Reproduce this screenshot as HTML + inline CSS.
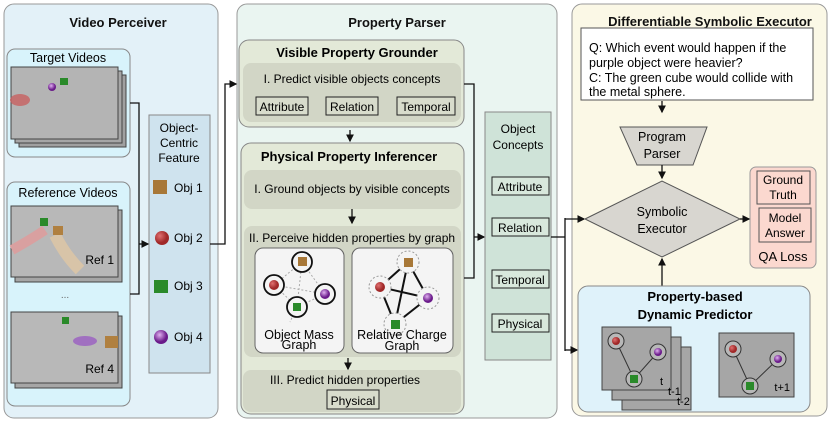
<!DOCTYPE html>
<html><head><meta charset="utf-8"><style>
html,body{margin:0;padding:0;background:#fff;}
svg{display:block;font-family:"Liberation Sans",sans-serif;}
</style></head><body>
<svg width="831" height="421" viewBox="0 0 831 421" xmlns="http://www.w3.org/2000/svg">
<defs>
<marker id="a" markerWidth="6" markerHeight="6" refX="5" refY="3" orient="auto"><path d="M0,0 L6,3 L0,6 z" fill="#111"/></marker>
<radialGradient id="gr" cx="35%" cy="35%"><stop offset="0" stop-color="#e07070"/><stop offset="1" stop-color="#a02828"/></radialGradient>
<radialGradient id="gp" cx="40%" cy="35%"><stop offset="0" stop-color="#e0b0f0"/><stop offset="1" stop-color="#6a1a8a"/></radialGradient>
</defs>
<!-- Panels -->
<rect x="4" y="4" width="214" height="414" rx="10" fill="#e3f1f8" stroke="#999"/>
<rect x="237" y="4" width="320" height="414" rx="10" fill="#eaf5f1" stroke="#999"/>
<rect x="572" y="4" width="255" height="412" rx="10" fill="#fbf8e6" stroke="#999"/>
<g font-weight="bold" font-size="13" text-anchor="middle" fill="#111">
<text x="118" y="27">Video Perceiver</text>
<text x="397" y="27">Property Parser</text>
<text x="710" y="26">Differentiable Symbolic Executor</text>
</g>
<!-- Video perceiver -->
<rect x="7" y="49" width="123" height="108" rx="8" fill="#d8f3fb" stroke="#888"/>
<text x="68" y="62" font-size="12.5" text-anchor="middle">Target Videos</text>
<rect x="19" y="75" width="107" height="72" fill="#a0a0a0" stroke="#444"/>
<rect x="15" y="71" width="107" height="72" fill="#a6a6a6" stroke="#444"/>
<rect x="11" y="67" width="107" height="72" fill="#b4b4b4" stroke="#444"/>
<ellipse cx="20" cy="100" rx="10" ry="6" fill="#c86060" opacity=".8"/>
<circle cx="52" cy="87" r="4" fill="url(#gp)"/>
<rect x="60" y="78" width="8" height="7" fill="#2a8a2a"/>
<rect x="7" y="182" width="123" height="224" rx="8" fill="#d8f3fb" stroke="#888"/>
<text x="68" y="197" font-size="12.5" text-anchor="middle">Reference Videos</text>
<rect x="15" y="210" width="107" height="72" fill="#a6a6a6" stroke="#444"/>
<rect x="11" y="206" width="107" height="71" fill="#b8b8b8" stroke="#444"/>
<path d="M12 250 Q30 240 45 230" stroke="#d9a0a0" stroke-width="10" fill="none"/>
<path d="M55 235 Q65 255 80 270" stroke="#d8c4a8" stroke-width="12" fill="none"/>
<rect x="40" y="218" width="8" height="8" fill="#2a8a2a"/>
<rect x="53" y="226" width="10" height="9" fill="#b08040"/>
<text x="114" y="264" font-size="12" text-anchor="end">Ref 1</text>
<text x="65" y="298" font-size="10" text-anchor="middle" fill="#666">...</text>
<rect x="15" y="316" width="107" height="72" fill="#a6a6a6" stroke="#444"/>
<rect x="11" y="312" width="107" height="71" fill="#b8b8b8" stroke="#444"/>
<rect x="62" y="317" width="7" height="7" fill="#2a8a2a"/>
<ellipse cx="85" cy="341" rx="12" ry="5" fill="#a070c0"/>
<rect x="105" y="336" width="13" height="12" fill="#b08040"/>
<text x="114" y="373" font-size="12" text-anchor="end">Ref 4</text>
<rect x="149" y="115" width="61" height="258" fill="#cfe3ee" stroke="#888"/>
<g font-size="12" text-anchor="middle"><text x="179" y="132">Object-</text><text x="179" y="147">Centric</text><text x="179" y="162">Feature</text></g>
<rect x="153" y="180" width="14" height="14" fill="#a87838"/>
<circle cx="162" cy="238" r="7" fill="url(#gr)"/>
<rect x="154" y="280" width="14" height="13" fill="#2a8a2a"/>
<circle cx="161" cy="337" r="7" fill="url(#gp)"/>
<g font-size="12"><text x="174" y="192">Obj 1</text><text x="174" y="242">Obj 2</text><text x="174" y="290">Obj 3</text><text x="174" y="341">Obj 4</text></g>
<g stroke="#111" stroke-width="1.3" fill="none">
<path d="M130 103 H139 V294 H130"/>
<path d="M139 244 H148" marker-end="url(#a)"/>
<path d="M210 244 H225 V84 H236" marker-end="url(#a)"/>
</g>
<!-- Property parser -->
<rect x="239" y="40" width="225" height="87" rx="10" fill="#e3e9d8" stroke="#888"/>
<text x="357" y="57" font-size="13" font-weight="bold" text-anchor="middle">Visible Property Grounder</text>
<rect x="243" y="63" width="218" height="59" rx="8" fill="#d2d6c6"/>
<text x="352" y="83" font-size="12" text-anchor="middle">I. Predict visible objects concepts</text>
<g stroke="#222" fill="#d8dccc"><rect x="256" y="97" width="52" height="18"/><rect x="326" y="97" width="52" height="18"/><rect x="397" y="97" width="58" height="18"/></g>
<g font-size="12" text-anchor="middle"><text x="282" y="111">Attribute</text><text x="352" y="111">Relation</text><text x="426" y="111">Temporal</text></g>
<rect x="241" y="143" width="223" height="271" rx="10" fill="#e3e9d8" stroke="#888"/>
<text x="349" y="161" font-size="13" font-weight="bold" text-anchor="middle">Physical Property Inferencer</text>
<rect x="244" y="170" width="217" height="39" rx="8" fill="#d2d6c6"/>
<text x="352" y="193" font-size="12" text-anchor="middle">I. Ground objects by visible concepts</text>
<rect x="244" y="226" width="217" height="131" rx="8" fill="#d2d6c6"/>
<text x="352" y="242" font-size="12" text-anchor="middle">II. Perceive hidden properties by graph</text>
<rect x="255" y="248" width="89" height="105" rx="8" fill="#f4f4f4" stroke="#666"/>
<rect x="352" y="248" width="101" height="105" rx="8" fill="#f4f4f4" stroke="#666"/>
<g stroke="#aaa" stroke-dasharray="2,2" fill="none"><path d="M302 262 L274 285 L325 294 L297 307 L302 262 M274 285 L297 307 M302 262 L325 294 M297 307 L290 322"/></g>
<g stroke="#111" stroke-width="1.8" fill="#f4f4f4"><circle cx="302" cy="262" r="10"/><circle cx="274" cy="285" r="10"/><circle cx="325" cy="294" r="10"/><circle cx="297" cy="307" r="10"/></g>
<rect x="298" y="257" width="9" height="9" fill="#a87838"/><circle cx="274" cy="285" r="5" fill="url(#gr)"/><circle cx="325" cy="294" r="5" fill="url(#gp)"/><rect x="293" y="303" width="8" height="8" fill="#2a8a2a"/>
<g stroke="#111" stroke-width="2" fill="none"><path d="M408 262 L380 287 L395 324 L428 298 L408 262 L395 324 M380 287 L428 298"/></g>
<g stroke="#999" stroke-dasharray="2,2" fill="#f4f4f4"><circle cx="408" cy="262" r="11"/><circle cx="380" cy="287" r="11"/><circle cx="428" cy="298" r="11"/><circle cx="395" cy="324" r="11"/></g>
<rect x="404" y="258" width="9" height="9" fill="#a87838"/><circle cx="380" cy="287" r="5" fill="url(#gr)"/><circle cx="428" cy="298" r="5" fill="url(#gp)"/><rect x="391" y="320" width="9" height="9" fill="#2a8a2a"/>
<g font-size="12.5" text-anchor="middle"><text x="299" y="339">Object Mass</text><text x="299" y="349">Graph</text><text x="402" y="339">Relative Charge</text><text x="402" y="350">Graph</text></g>
<rect x="243" y="370" width="218" height="42" rx="8" fill="#d2d6c6"/>
<text x="345" y="384" font-size="12" text-anchor="middle">III. Predict hidden properties</text>
<rect x="327" y="390" width="52" height="19" fill="#d8dccc" stroke="#222"/>
<text x="353" y="405" font-size="12" text-anchor="middle">Physical</text>
<g stroke="#111" stroke-width="1.3" fill="none">
<path d="M350 130 V141" marker-end="url(#a)"/>
<path d="M352 209 V223" marker-end="url(#a)"/>
<path d="M348 358 V369" marker-end="url(#a)"/>
<path d="M464 84 H474 V278 H464"/>
<path d="M474 237 H484" marker-end="url(#a)"/>
</g>
<rect x="485" y="112" width="66" height="248" fill="#cfe3d8" stroke="#888"/>
<g font-size="12" text-anchor="middle"><text x="518" y="133">Object</text><text x="518" y="149">Concepts</text></g>
<g stroke="#222" fill="#d8e8dc"><rect x="492" y="177" width="57" height="18"/><rect x="492" y="218" width="57" height="18"/><rect x="492" y="270" width="57" height="18"/><rect x="492" y="314" width="57" height="18"/></g>
<g font-size="12" text-anchor="middle"><text x="520" y="191">Attribute</text><text x="520" y="232">Relation</text><text x="520" y="284">Temporal</text><text x="520" y="328">Physical</text></g>
<g stroke="#111" stroke-width="1.3" fill="none">
<path d="M551 237 H565"/>
<path d="M565 218 V351"/>
<path d="M565 219 H584" marker-end="url(#a)"/>
<path d="M565 350 H577" marker-end="url(#a)"/>
</g>
<!-- DSE -->
<rect x="581" y="28" width="232" height="72" fill="#fff" stroke="#555"/>
<g font-size="12.5"><text x="589" y="52">Q: Which event would happen if the</text><text x="589" y="67">purple object were heavier?</text><text x="589" y="82">C: The green cube would collide with</text><text x="589" y="96">the metal sphere.</text></g>
<path d="M620 127 H707 L693 165 H637 Z" fill="#d8d6d0" stroke="#555"/>
<g font-size="12.5" text-anchor="middle"><text x="662" y="141">Program</text><text x="662" y="158">Parser</text></g>
<path d="M585 219 L662 181 L740 219 L662 257 Z" fill="#d8d6d0" stroke="#555"/>
<g font-size="12.5" text-anchor="middle"><text x="662" y="216">Symbolic</text><text x="662" y="233">Executor</text></g>
<rect x="750" y="167" width="66" height="101" rx="6" fill="#fbd8cf" stroke="#999"/>
<rect x="757" y="171" width="53" height="33" fill="#fbd8cf" stroke="#555"/>
<rect x="759" y="208" width="52" height="34" fill="#fbd8cf" stroke="#555"/>
<g font-size="12" text-anchor="middle"><text x="783" y="184">Ground</text><text x="783" y="199">Truth</text><text x="785" y="222">Model</text><text x="785" y="237">Answer</text><text x="783" y="261" font-size="13">QA Loss</text></g>
<g stroke="#111" stroke-width="1.3" fill="none">
<path d="M662 101 V112" marker-end="url(#a)"/>
<path d="M662 165 V178" marker-end="url(#a)"/>
<path d="M740 219 H749" marker-end="url(#a)"/>
<path d="M662 286 V259" marker-end="url(#a)"/>
<path d="M694 366 H715" marker-end="url(#a)"/>
</g>
<rect x="578" y="286" width="232" height="126" rx="10" fill="#dff2fa" stroke="#888"/>
<g font-size="13" font-weight="bold" text-anchor="middle"><text x="695" y="301">Property-based</text><text x="695" y="319">Dynamic Predictor</text></g>
<rect x="622" y="347" width="69" height="63" fill="#a6a6a6" stroke="#444"/>
<rect x="612" y="337" width="69" height="63" fill="#a6a6a6" stroke="#444"/>
<rect x="602" y="327" width="69" height="63" fill="#a6a6a6" stroke="#444"/>
<g stroke="#333" fill="none"><path d="M616 341 L634 379 L658 352"/></g>
<g stroke="#333" fill="#b8b8b8"><circle cx="616" cy="341" r="8"/><circle cx="658" cy="352" r="8"/><circle cx="634" cy="379" r="8"/></g>
<circle cx="616" cy="341" r="4" fill="url(#gr)"/><circle cx="658" cy="352" r="4" fill="url(#gp)"/><rect x="630" y="375" width="8" height="8" fill="#2a8a2a"/>
<g font-size="11"><text x="660" y="385">t</text><text x="668" y="395">t-1</text><text x="677" y="405">t-2</text></g>
<rect x="719" y="333" width="75" height="64" fill="#a6a6a6" stroke="#444"/>
<g stroke="#333" fill="none"><path d="M733 349 L750 386 L778 359"/></g>
<g stroke="#333" fill="#b8b8b8"><circle cx="733" cy="349" r="8"/><circle cx="778" cy="359" r="8"/><circle cx="750" cy="386" r="8"/></g>
<circle cx="733" cy="349" r="4" fill="url(#gr)"/><circle cx="778" cy="359" r="4" fill="url(#gp)"/><rect x="746" y="382" width="8" height="8" fill="#2a8a2a"/>
<text x="790" y="391" font-size="11" text-anchor="end">t+1</text>
</svg>
</body></html>
